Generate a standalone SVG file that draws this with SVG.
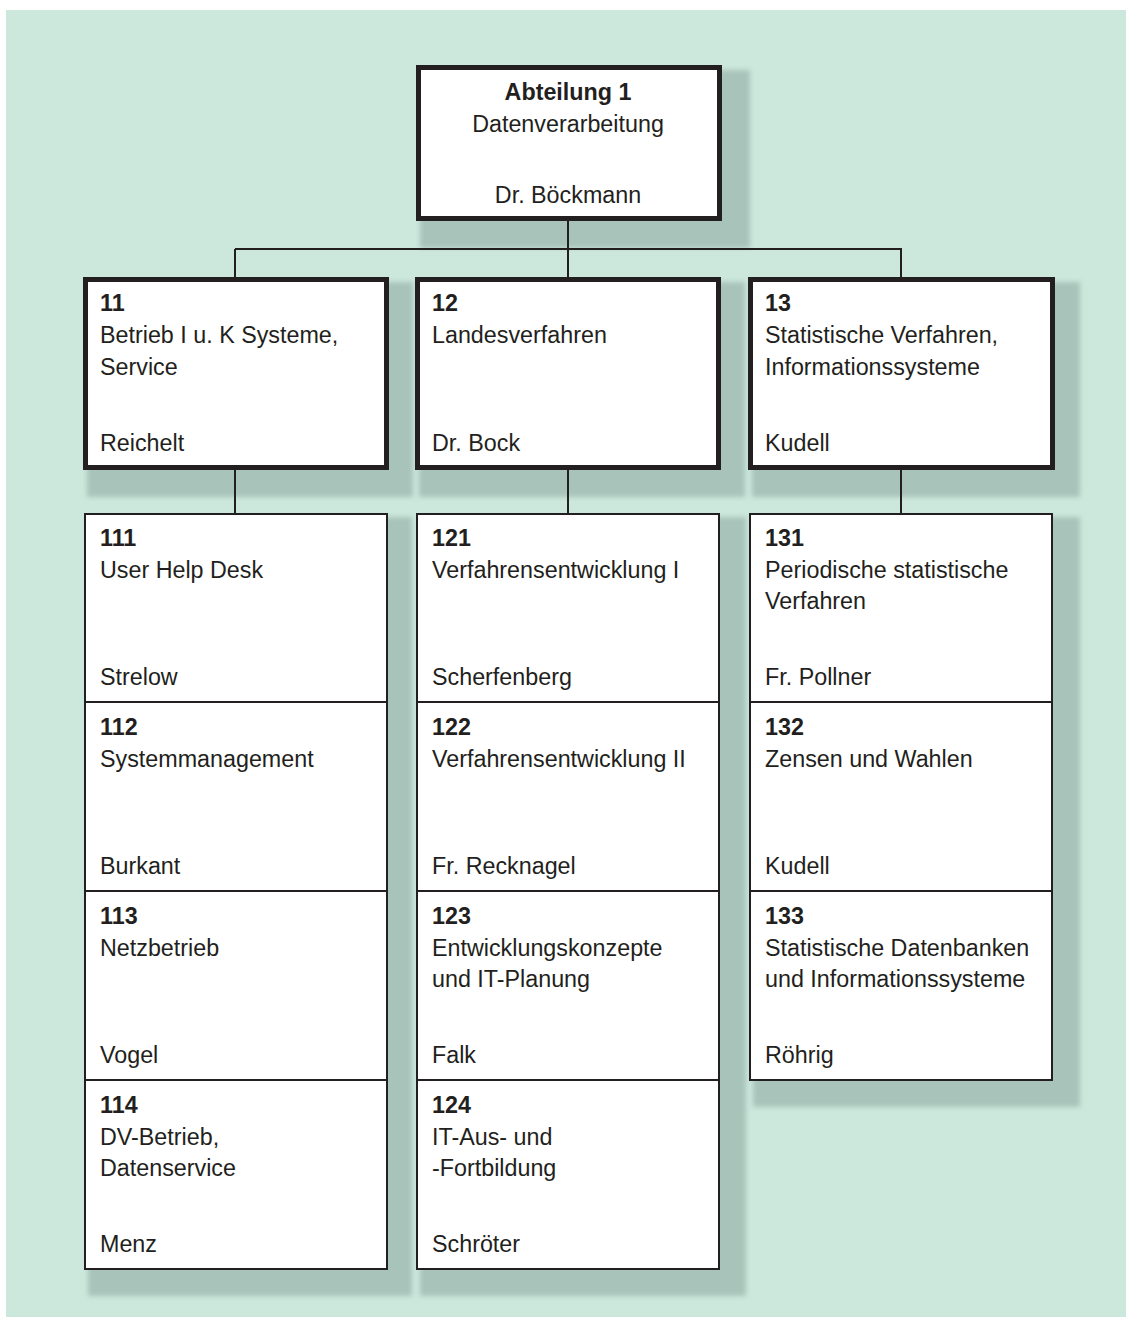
<svg xmlns="http://www.w3.org/2000/svg" width="1126" height="1317" viewBox="0 0 1126 1317">
<defs>
<filter id="blur" x="-10%" y="-10%" width="120%" height="120%"><feGaussianBlur stdDeviation="2.5"/></filter>
<style>
text{font-family:"Liberation Sans",Arial,sans-serif;font-size:23.3px;fill:#231f20}
.b{font-weight:bold}
.c{text-anchor:middle}
.box{fill:#ffffff;stroke:#231f20;stroke-width:2}
.hbox{fill:#ffffff;stroke:#231f20;stroke-width:5}
.sh{fill:#a8c3ba;filter:url(#blur)}
.ln{stroke:#231f20;stroke-width:2;fill:none}
</style>
</defs>
<rect x="6" y="10" width="1120" height="1307" fill="#cce7dc"/>
<g id="shadows">
<rect class="sh" x="420" y="70" width="330" height="178"/>
<rect class="sh" x="87" y="282" width="326" height="215"/>
<rect class="sh" x="419" y="282" width="326" height="215"/>
<rect class="sh" x="752" y="282" width="328" height="215"/>
<rect class="sh" x="88" y="517" width="324" height="779"/>
<rect class="sh" x="420" y="517" width="326" height="779"/>
<rect class="sh" x="753" y="517" width="327" height="590"/>
</g>
<g id="connectors">
<path class="ln" d="M568 221V249M235 249H902M235 249V278M568 249V278M901 249V278"/>
<path class="ln" d="M235 470V513M568 470V513M901 470V513"/>
</g>
<g id="n1">
<rect class="hbox" x="418.5" y="67.5" width="301" height="151"/>
<text class="b c" x="568" y="100">Abteilung 1</text>
<text class="c" x="568" y="132">Datenverarbeitung</text>
<text class="c" x="568" y="203">Dr. Böckmann</text>
</g>
<g id="n11">
<rect class="hbox" x="85.5" y="279.5" width="301" height="188"/>
<text class="b" x="100" y="311">11</text>
<text x="100" y="343">Betrieb I u. K Systeme,</text>
<text x="100" y="375">Service</text>
<text x="100" y="451">Reichelt</text>
</g>
<g id="n12">
<rect class="hbox" x="417.5" y="279.5" width="301" height="188"/>
<text class="b" x="432" y="311">12</text>
<text x="432" y="343">Landesverfahren</text>
<text x="432" y="451">Dr. Bock</text>
</g>
<g id="n13">
<rect class="hbox" x="750.5" y="279.5" width="302" height="188"/>
<text class="b" x="765" y="311">13</text>
<text x="765" y="343">Statistische Verfahren,</text>
<text x="765" y="375">Informationssysteme</text>
<text x="765" y="451">Kudell</text>
</g>
<g id="n111">
<rect class="box" x="85" y="514" width="302" height="188"/>
<text class="b" x="100" y="546">111</text>
<text x="100" y="578">User Help Desk</text>
<text x="100" y="685">Strelow</text>
</g>
<g id="n112">
<rect class="box" x="85" y="702" width="302" height="189"/>
<text class="b" x="100" y="735">112</text>
<text x="100" y="767">Systemmanagement</text>
<text x="100" y="874">Burkant</text>
</g>
<g id="n113">
<rect class="box" x="85" y="891" width="302" height="189"/>
<text class="b" x="100" y="924">113</text>
<text x="100" y="956">Netzbetrieb</text>
<text x="100" y="1063">Vogel</text>
</g>
<g id="n114">
<rect class="box" x="85" y="1080" width="302" height="189"/>
<text class="b" x="100" y="1113">114</text>
<text x="100" y="1145">DV-Betrieb,</text>
<text x="100" y="1176">Datenservice</text>
<text x="100" y="1252">Menz</text>
</g>
<g id="n121">
<rect class="box" x="417" y="514" width="302" height="188"/>
<text class="b" x="432" y="546">121</text>
<text x="432" y="578">Verfahrensentwicklung I</text>
<text x="432" y="685">Scherfenberg</text>
</g>
<g id="n122">
<rect class="box" x="417" y="702" width="302" height="189"/>
<text class="b" x="432" y="735">122</text>
<text x="432" y="767">Verfahrensentwicklung II</text>
<text x="432" y="874">Fr. Recknagel</text>
</g>
<g id="n123">
<rect class="box" x="417" y="891" width="302" height="189"/>
<text class="b" x="432" y="924">123</text>
<text x="432" y="956">Entwicklungskonzepte</text>
<text x="432" y="987">und IT-Planung</text>
<text x="432" y="1063">Falk</text>
</g>
<g id="n124">
<rect class="box" x="417" y="1080" width="302" height="189"/>
<text class="b" x="432" y="1113">124</text>
<text x="432" y="1145">IT-Aus- und</text>
<text x="432" y="1176">-Fortbildung</text>
<text x="432" y="1252">Schröter</text>
</g>
<g id="n131">
<rect class="box" x="750" y="514" width="302" height="188"/>
<text class="b" x="765" y="546">131</text>
<text x="765" y="578">Periodische statistische</text>
<text x="765" y="609">Verfahren</text>
<text x="765" y="685">Fr. Pollner</text>
</g>
<g id="n132">
<rect class="box" x="750" y="702" width="302" height="189"/>
<text class="b" x="765" y="735">132</text>
<text x="765" y="767">Zensen und Wahlen</text>
<text x="765" y="874">Kudell</text>
</g>
<g id="n133">
<rect class="box" x="750" y="891" width="302" height="189"/>
<text class="b" x="765" y="924">133</text>
<text x="765" y="956">Statistische Datenbanken</text>
<text x="765" y="987">und Informationssysteme</text>
<text x="765" y="1063">Röhrig</text>
</g>
</svg>
